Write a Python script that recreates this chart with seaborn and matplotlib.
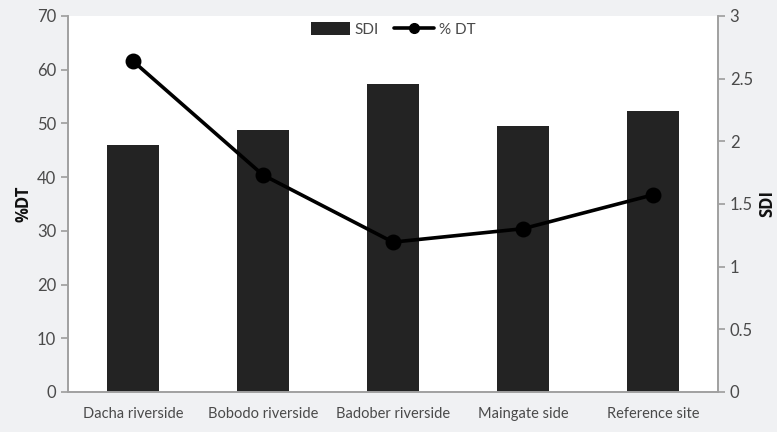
import matplotlib
matplotlib.use("Agg")
import matplotlib.pyplot as plt
import seaborn as sns
from matplotlib.lines import Line2D
from matplotlib.patches import Patch

sites = ["Dacha riverside", "Bobodo riverside", "Badober riverside", "Maingate side", "Reference site"]
sdi = [1.97, 2.09, 2.46, 2.12, 2.24]
pct_dt = [61.6, 40.4, 27.9, 30.4, 36.7]

sns.set_theme(style="white")
plt.rcParams["font.family"] = ["Lato", "DejaVu Sans"]

text_col = "#4a4a4a"
spine_col = "#a0a0a0"
bold_font = ["Open Sans", "DejaVu Sans"]

fig = plt.figure(figsize=(7.77, 4.32), dpi=100)
fig.patch.set_facecolor("#f0f1f3")
ax = fig.add_axes([0.0875, 0.0926, 0.8365, 0.8704])
ax2 = ax.twinx()

# bars (SDI) on the right axis, drawn beneath the line
sns.barplot(x=sites, y=sdi, ax=ax2, color="#232323", width=0.4,
            saturation=1, edgecolor="none")
ax2.set_ylim(0, 3)
ax2.set_yticks([0, 0.5, 1, 1.5, 2, 2.5, 3])
ax2.set_yticklabels(["0", "0.5", "1", "1.5", "2", "2.5", "3"])
ax2.set_ylabel("SDI", fontsize=12, fontweight="bold", color="#111111",
               family=bold_font, labelpad=4)

# line (%DT) on the left axis
sns.pointplot(x=sites, y=pct_dt, ax=ax, color="black", markers="o",
              markersize=9.5, linewidth=2.6)
ax.set_ylim(0, 70)
ax.set_yticks(range(0, 71, 10))
ax.set_ylabel("%DT", fontsize=12, fontweight="bold", color="#111111",
              family=bold_font, labelpad=3)

ax.set_zorder(ax2.get_zorder() + 1)
ax.patch.set_visible(False)
ax2.patch.set_facecolor("white")
ax2.patch.set_visible(True)

ax.set_xlim(-0.5, 4.5)
ax.set_xticks(range(len(sites)))
ax.set_xticklabels(sites)
ax.set_xticks([i - 0.5 for i in range(len(sites) + 1)], minor=True)
ax.tick_params(axis="x", which="major", length=0, pad=11, labelsize=10.5, colors=text_col)
ax.tick_params(axis="x", which="minor", length=5, color=spine_col, width=1, direction="out")
ax.tick_params(axis="y", length=5, color=spine_col, colors=text_col, labelsize=12,
               direction="out", left=True)
ax2.tick_params(axis="y", length=5, color=spine_col, colors=text_col, labelsize=12,
                direction="out", right=True)
ax.set_xlabel("")
ax2.set_xlabel("")

for a in (ax, ax2):
    a.spines["top"].set_visible(False)
    for s in ("left", "right", "bottom"):
        a.spines[s].set_color(spine_col)
        a.spines[s].set_linewidth(1.2)

handles = [
    Patch(facecolor="#232323", edgecolor="none", label="SDI"),
    Line2D([0], [0], color="black", lw=2.6, marker="o", markersize=7, label="% DT"),
]
ax.legend(handles=handles, loc="upper center", bbox_to_anchor=(0.5, 1.02), ncol=2,
          frameon=False, fontsize=11, handlelength=2.6, handleheight=0.9,
          columnspacing=1.0, handletextpad=0.3, labelcolor=text_col)

fig.savefig("out.png", dpi=100, facecolor=fig.get_facecolor())
